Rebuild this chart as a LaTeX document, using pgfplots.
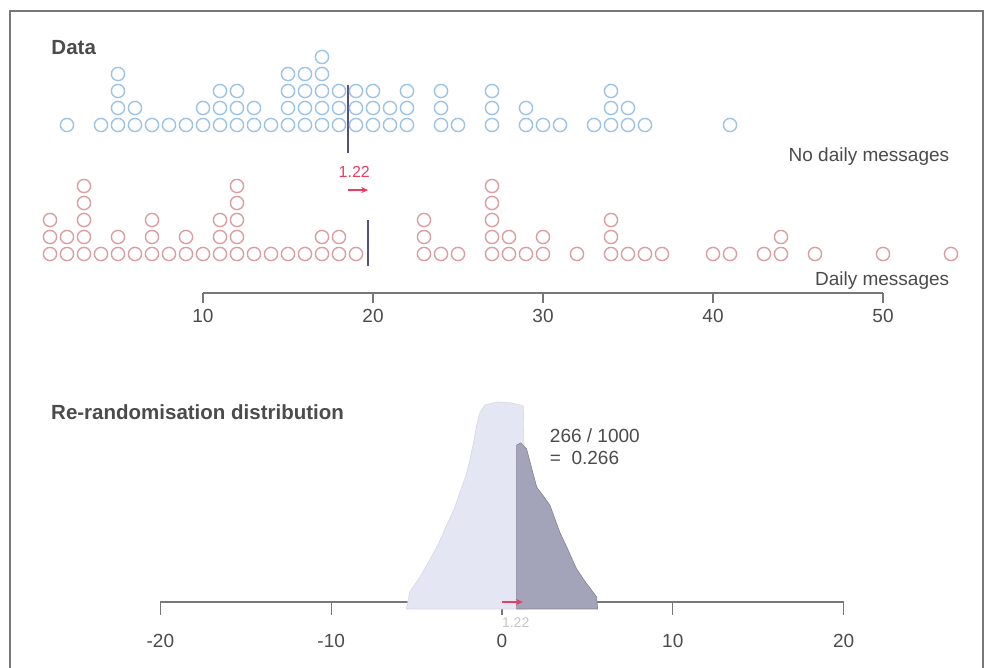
\documentclass[border=0pt]{standalone}
\usepackage{pgfplots}
\pgfplotsset{compat=1.18}
\usetikzlibrary{arrows.meta}
\usepackage{fontspec}
\setmainfont{Liberation Sans}
\definecolor{blueC}{RGB}{155,195,230}
\definecolor{redC}{RGB}{218,158,162}
\definecolor{meanC}{RGB}{85,80,130}
\definecolor{arrowC}{RGB}{228,62,98}
\definecolor{txt}{RGB}{75,75,75}
\definecolor{axC}{RGB}{120,120,120}
\definecolor{lightD}{RGB}{228,231,243}
\definecolor{darkD}{RGB}{163,163,185}
\newcommand{\fs}{\fontsize{19}{22}\selectfont}
\newcommand{\fb}{\fontsize{20.5}{24}\selectfont\bfseries}
\pgfplotsset{
  dots/.style={only marks, mark=o, mark size=6.6pt, mark options={line width=1.4pt}},
  ruler/.style={scale only axis, axis x line=bottom, axis y line=none,
    x axis line style={-, axC, line width=1.2pt}, tick align=outside,
    major tick length=10pt, xtick pos=bottom,
    tick style={axC, line width=1.2pt},
    ytick=\empty, height=1pt, ymin=0, ymax=1,
    /pgf/number format/assume math mode=true,
    xticklabel style={font=\fs, text=txt}},
}
\begin{document}
\begin{tikzpicture}[x=1pt,y=1pt]
\path[use as bounding box] (0,0) rectangle (985,668);
\draw[axC, line width=1.5pt] (10,0) -- (10,657) -- (983,657) -- (983,0);

% ---------- Blue group: No daily messages ----------
\begin{axis}[at={(33pt,526pt)}, anchor=south west, x=17pt, y=17pt,
  xmin=0, xmax=56, ymin=0, ymax=6, hide axis, clip=false]
\addplot[dots, blueC] coordinates {
(2,1) (4,1)
(5,1)(5,2)(5,3)(5,4)
(6,1)(6,2)
(7,1)(8,1)(9,1)
(10,1)(10,2)
(11,1)(11,2)(11,3)
(12,1)(12,2)(12,3)
(13,1)(13,2)
(14,1)
(15,1)(15,2)(15,3)(15,4)
(16,1)(16,2)(16,3)(16,4)
(17,1)(17,2)(17,3)(17,4)(17,5)
(18,1)(18,2)(18,3)
(19,1)(19,2)(19,3)
(20,1)(20,2)(20,3)
(21,1)(21,2)
(22,1)(22,2)(22,3)
(24,1)(24,2)(24,3)
(25,1)
(27,1)(27,2)(27,3)
(29,1)(29,2)
(30,1)(31,1)(33,1)
(34,1)(34,2)(34,3)
(35,1)(35,2)
(36,1)(41,1)
};
\addplot[meanC, line width=2pt] coordinates {(18.5,-0.65) (18.5,3.35)};
\node[anchor=east, font=\fs, text=txt] at (axis cs:54.1,-0.88) {No daily messages};
\node[anchor=west, font=\fb, text=txt] at (axis cs:0.88,5.53) {Data};
\end{axis}

% ---------- Red group: Daily messages ----------
\begin{axis}[at={(33pt,397pt)}, anchor=south west, x=17pt, y=17pt,
  xmin=0, xmax=56, ymin=0, ymax=6, hide axis, clip=false]
\addplot[dots, redC] coordinates {
(1,1)(1,2)(1,3)
(2,1)(2,2)
(3,1)(3,2)(3,3)(3,4)(3,5)
(4,1)
(5,1)(5,2)
(6,1)
(7,1)(7,2)(7,3)
(8,1)
(9,1)(9,2)
(10,1)
(11,1)(11,2)(11,3)
(12,1)(12,2)(12,3)(12,4)(12,5)
(13,1)(14,1)(15,1)(16,1)
(17,1)(17,2)
(18,1)(18,2)
(19,1)
(23,1)(23,2)(23,3)
(24,1)(25,1)
(27,1)(27,2)(27,3)(27,4)(27,5)
(28,1)(28,2)
(29,1)
(30,1)(30,2)
(32,1)
(34,1)(34,2)(34,3)
(35,1)(36,1)(37,1)
(40,1)(41,1)
(43,1)
(44,1)(44,2)
(46,1)(50,1)(54,1)
};
\addplot[meanC, line width=2pt] coordinates {(19.72,0.3) (19.72,3.0)};
\addplot[arrowC, line width=1.8pt, -{Stealth[length=7pt,width=6pt]}] coordinates {(18.5,4.76) (19.72,4.76)};
\node[font=\fontsize{16}{18}\selectfont, text=arrowC] at (axis cs:18.9,5.82) {1.22};
\node[anchor=east, font=\fs, text=txt] at (axis cs:54.1,-0.59) {Daily messages};
\end{axis}

% ---------- Top ruler ----------
\begin{axis}[ruler, at={(203pt,375pt)}, anchor=south west, width=680pt,
  xmin=10, xmax=50, xtick={10,20,30,40,50},
  xticklabel style={yshift=-3pt}]
\addplot[draw=none] coordinates {(10,0) (50,0)};
\end{axis}

% ---------- Bottom ruler ----------
\begin{axis}[ruler, at={(160.4pt,66pt)}, anchor=south west, width=683.2pt,
  xmin=-20, xmax=20, xtick={-20,-10,0,10,20}, major tick length=13pt,
  xticklabel style={yshift=-16pt}]
\addplot[draw=none] coordinates {(-20,0) (20,0)};
\end{axis}

% ---------- Re-randomisation distribution ----------
\begin{axis}[at={(160.4pt,59pt)}, anchor=south west, scale only axis,
  width=683.2pt, height=260pt, xmin=-20, xmax=20, ymin=0, ymax=260,
  hide axis, clip=false]
\addplot[fill=lightD, draw=lightD!85!gray, line width=0.6pt] coordinates {
(-5.6,0) (-5.4,17) (-4.8,32) (-4.2,50) (-3.7,66) (-3.24,84) (-2.8,100)
(-2.46,117) (-2.1,134) (-1.87,150) (-1.65,168) (-1.48,184) (-1.3,196)
(-1.0,204) (-0.3,207) (0.6,206) (1.25,203) (1.3,150) (1.3,0)} -- cycle;
\addplot[fill=darkD, draw=darkD!80!black, line width=0.6pt] coordinates {
(0.86,0) (0.86,164) (1.1,166) (1.44,160) (1.75,140) (2.03,122) (2.42,113)
(2.8,104) (3.1,90) (3.4,76) (3.79,62) (4.1,50) (4.37,40)
(4.8,29) (5.15,21) (5.54,12) (5.6,0)} -- cycle;
\addplot[arrowC, line width=1.8pt, -{Stealth[length=7pt,width=6pt]}] coordinates {(0,7) (1.22,7)};
\node[font=\fontsize{14}{16}\selectfont, text=gray!45] at (axis cs:0.8,-14) {1.22};
\node[anchor=west, font=\fs, text=txt, align=left] at (axis cs:2.6,173) {266 / 1000};
\node[anchor=west, font=\fs, text=txt] at (axis cs:2.6,151) {=\ \ 0.266};
\node[anchor=west, font=\fb, text=txt] at (axis cs:-26.6,197) {Re-randomisation distribution};
\end{axis}
\end{tikzpicture}
\end{document}
